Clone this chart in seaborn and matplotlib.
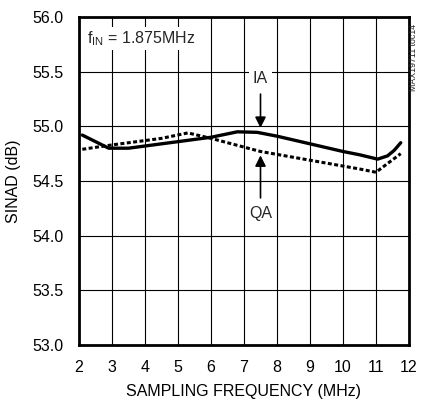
import matplotlib
matplotlib.use("Agg")
import matplotlib.pyplot as plt
import seaborn as sns
import pandas as pd

freq_ia = [2.1, 2.5, 2.9, 3.5, 4.5, 5.5, 6.0, 6.8, 7.4, 8.0, 9.0, 10.0, 10.5, 11.05, 11.35, 11.55, 11.75]
sinad_ia = [54.92, 54.86, 54.80, 54.80, 54.84, 54.88, 54.90, 54.95, 54.945, 54.91, 54.84, 54.77, 54.74, 54.70, 54.73, 54.78, 54.85]
freq_qa = [2.1, 3.0, 4.5, 5.3, 6.0, 7.5, 9.0, 10.5, 11.0, 11.35, 11.75]
sinad_qa = [54.79, 54.83, 54.89, 54.94, 54.89, 54.77, 54.69, 54.61, 54.58, 54.66, 54.75]

xticks = [2, 3, 4, 5, 6, 7, 8, 9, 10, 11, 12]
yticks = [53.0, 53.5, 54.0, 54.5, 55.0, 55.5, 56.0]

sns.set_theme(style="white")
font = ["Liberation Sans Narrow", "Liberation Sans", "DejaVu Sans"]
plt.rcParams["font.family"] = font
plt.rcParams["mathtext.fontset"] = "custom"
plt.rcParams["mathtext.rm"] = "Liberation Sans"

df_ia = pd.DataFrame({"f": freq_ia, "s": sinad_ia})
df_qa = pd.DataFrame({"f": freq_qa, "s": sinad_qa})

fig = plt.figure(figsize=(4.22, 4.03), dpi=100)
ax = fig.add_axes([79 / 422, 1 - 345 / 403, 330 / 422, 328 / 403])

sns.lineplot(data=df_ia, x="f", y="s", ax=ax, color="black", linewidth=2.4)
sns.lineplot(data=df_qa, x="f", y="s", ax=ax, color="black", linewidth=2.2,
             linestyle=(0, (1.3, 0.8)))

ax.set_xlim(2, 12)
ax.set_ylim(53, 56)
ax.set_xticks(xticks)
ax.set_xticklabels([str(t) for t in xticks])
ax.set_yticks(yticks)
ax.set_yticklabels([f"{t:.1f}" for t in yticks])
ax.grid(True, color="black", linewidth=0.8)
ax.set_axisbelow(True)
for sp in ax.spines.values():
    sp.set_color("black")
    sp.set_linewidth(2)
ax.tick_params(axis="x", length=0, labelsize=11.5, colors="black", pad=11)
ax.tick_params(axis="y", length=0, labelsize=11.5, colors="black", pad=11)
ax.set_xlabel("SAMPLING FREQUENCY (MHz)", fontsize=11.5, color="black", labelpad=6)
ax.set_ylabel("SINAD (dB)", fontsize=11.5, color="black", labelpad=8)

ax.text(2.25, 55.8, r"f$_{\mathrm{IN}}$ = 1.875MHz", fontsize=11.5, ha="left", va="center",
        bbox=dict(facecolor="white", edgecolor="none", pad=1.5))
ax.text(7.5, 55.44, "IA", fontsize=11.5, ha="center", va="center",
        bbox=dict(facecolor="white", edgecolor="none", pad=3))
ax.annotate("", xy=(7.5, 54.96), xytext=(7.5, 55.32),
            arrowprops=dict(arrowstyle="-|>", color="black", lw=1.2, mutation_scale=16))
ax.text(7.5, 54.20, "QA", fontsize=11.5, ha="center", va="center")
ax.annotate("", xy=(7.5, 54.76), xytext=(7.5, 54.32),
            arrowprops=dict(arrowstyle="-|>", color="black", lw=1.2, mutation_scale=16))

fig.text(414 / 422, 1 - 57 / 403, "MAX19711 toc14", rotation=90, fontsize=6.3,
         ha="center", va="center")

fig.savefig("out.png", dpi=100)
